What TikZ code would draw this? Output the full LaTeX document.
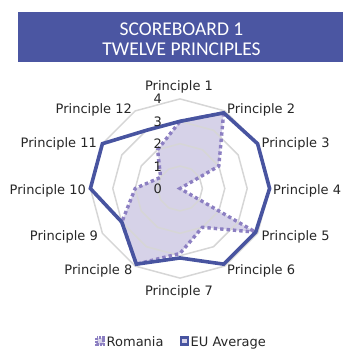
\documentclass[tikz,border=0pt]{standalone}
\usepackage{fontspec}
\setmainfont{DejaVu Sans}
\newfontfamily\titlefont{Carlito}
\definecolor{banner}{RGB}{75,86,162}
\definecolor{euline}{RGB}{72,84,160}
\definecolor{roline}{RGB}{140,127,194}
\definecolor{rofill}{RGB}{214,210,232}
\definecolor{gridgray}{RGB}{214,214,214}
\tikzset{
  lbl/.style={font=\fontsize{13}{15}\selectfont, inner sep=0pt, text=black!85},
  titletxt/.style={font=\titlefont\fontsize{19.5}{21}\selectfont, text=white, inner sep=0pt, anchor=base},
  gridline/.style={draw=gridgray, line width=1.5pt, line join=round},
  euseries/.style={draw=euline, line width=3.6pt, line join=miter},
  roseries/.style={draw=roline, line width=3.4pt, dash pattern=on 3.4pt off 3pt},
}
\def\cx{180}
\def\cy{188.5}
\def\un{22.4}
\def\rovals{{3,3.9,2,0,3.9,2,2.9,3.9,3.0,2,1,2}}
\def\euvals{{3,3.9,4,4,3.9,3.9,3.1,3.9,3.0,4,4,3}}
\begin{document}
\begin{tikzpicture}[x=1pt,y=-1pt]
\useasboundingbox (0,0) rectangle (343,349);
% title banner
\fill[banner] (18,11.7) rectangle (343,62.3);
\node[titletxt] (t1) at (181.5,35) {SCOREBOARD 1};
\node[titletxt] (t2) at (181.5,55.5) {TWELVE PRINCIPLES};
% vertex coordinates
\foreach \i in {0,...,11}{
  \pgfmathsetmacro\v{\rovals[\i]}
  \pgfmathsetmacro\w{\euvals[\i]}
  \pgfmathsetmacro\a{90-30*\i}
  \coordinate (ro\i) at ({\cx+\un*\v*cos(\a)},{\cy-\un*\v*sin(\a)});
  \coordinate (eu\i) at ({\cx+\un*\w*cos(\a)},{\cy-\un*\w*sin(\a)});
  \foreach \k in {1,...,4}{
    \coordinate (g\k-\i) at ({\cx+\un*\k*cos(\a)},{\cy-\un*\k*sin(\a)});
  }
}
% Romania fill
\fill[rofill] (ro0) \foreach \i in {1,...,11}{ -- (ro\i) } -- cycle;
% grid
\foreach \k in {1,...,4}{
  \draw[gridline] (g\k-0) \foreach \i in {1,...,11}{ -- (g\k-\i) } -- cycle;
}
% Romania line
\draw[roseries] (ro0) \foreach \i in {1,...,11}{ -- (ro\i) } -- cycle;
% EU line
\draw[euseries] (eu0) \foreach \i in {1,...,11}{ -- (eu\i) } -- cycle;
% scale numbers
\foreach \k in {0,...,4}{
  \node[lbl, anchor=base east] (n\k) at (162,{\cy-\un*\k+5}) {\k};
}
% axis labels
\node[lbl, anchor=base] (p1) at (179,90.7) {Principle 1};
\node[lbl, anchor=base west] (p2) at (227,113.3) {Principle 2};
\node[lbl, anchor=base west] (p3) at (261.5,147.3) {Principle 3};
\node[lbl, anchor=base west] (p4) at (273,194) {Principle 4};
\node[lbl, anchor=base west] (p5) at (261.5,240.7) {Principle 5};
\node[lbl, anchor=base west] (p6) at (227,274.3) {Principle 6};
\node[lbl, anchor=base] (p7) at (179,295.7) {Principle 7};
\node[lbl, anchor=base east] (p8) at (132.5,274.3) {Principle 8};
\node[lbl, anchor=base east] (p9) at (98,240.7) {Principle 9};
\node[lbl, anchor=base east] (p10) at (86,194) {Principle 10};
\node[lbl, anchor=base east] (p11) at (97,147.3) {Principle 11};
\node[lbl, anchor=base east] (p12) at (132,113.3) {Principle 12};
% legend
\filldraw[fill=rofill, draw=roline, line width=2.4pt, dash pattern=on 2.2pt off 1.2pt] (96.5,337.5) rectangle (103.5,344.5);
\node[lbl, anchor=base west] (lro) at (106.5,346.5) {Romania};
\filldraw[fill=rofill, draw=euline, line width=2.6pt] (181,337.5) rectangle (188,344.5);
\node[lbl, anchor=base west] (leu) at (190.5,346.5) {EU Average};
\end{tikzpicture}
\end{document}
